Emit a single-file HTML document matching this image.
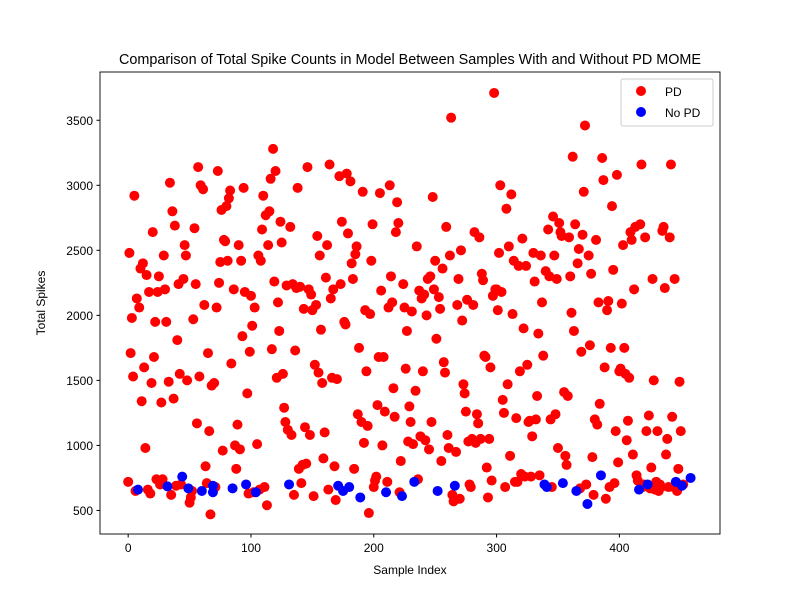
<!DOCTYPE html>
<html><head><meta charset="utf-8"><style>
body{margin:0;background:#fff}
svg text{font-family:"Liberation Sans","DejaVu Sans",sans-serif;fill:#000}
</style></head><body>
<svg id="chart" width="800" height="600" viewBox="0 0 800 600" xmlns="http://www.w3.org/2000/svg">
<rect width="800" height="600" fill="#fff"/>
<text x="410" y="64" font-size="14.4" text-anchor="middle">Comparison of Total Spike Counts in Model Between Samples With and Without PD MOME</text>
<g id="marks"></g>
<rect x="100" y="72" width="620" height="462" fill="none" stroke="#000" stroke-width="0.9"/>
<g id="axes"></g>
<text x="410" y="574" font-size="12" text-anchor="middle">Sample Index</text>
<text transform="translate(45,303) rotate(-90)" font-size="12" text-anchor="middle">Total Spikes</text>
<g>
<rect x="621" y="79" width="92" height="47" rx="2" fill="#fff" fill-opacity="0.8" stroke="#ccc"/>
<circle cx="641" cy="91" r="5" fill="#ff0000"/>
<text x="665" y="96" font-size="12">PD</text>
<circle cx="641" cy="112" r="5" fill="#0000ff"/>
<text x="665" y="117" font-size="12">No PD</text>
</g>
</svg>
<script>
const noPdIdx=[8,32,44,49,60,69,69,85,96,104,131,171,175,180,189,210,223,233,252,266,339,341,354,365,374,385,416,423,446,451,458];
const noPdVals=[660,685,760,670,650,640,690,670,700,640,700,690,650,680,600,640,610,720,650,690,700,680,710,650,550,770,660,700,720,690,750];
const pdVals=[
720,2480,1710,1980,1530,2920,650,2130,2060,2360,1340,2400,1600,980,2310,660,2180,630,1480,2640,
1680,1950,740,2180,2300,700,1330,740,2460,2200,1950,1490,3020,620,2800,1360,2690,690,1810,2240,
1550,700,2280,2540,2460,1500,560,600,650,1970,2670,2240,1170,3140,1530,3000,2970,2080,840,710,
1710,1110,470,1460,1480,680,2060,3110,2250,2410,2810,960,2580,2570,2840,2420,2900,2960,1630,2200,
1000,820,1160,2540,970,2420,1840,2980,2180,1400,630,1720,2150,1920,640,2060,1010,2460,660,2420,
2660,2920,680,2770,540,2540,2800,3050,1740,3280,2260,3110,1520,2100,1880,2720,2560,1550,1290,1180,
2230,1120,2680,1080,2240,620,1730,2210,2980,820,2220,710,850,2050,1140,860,3140,2200,1080,2160,
2040,610,1620,2080,2610,1560,2460,1890,1480,900,1100,2290,2540,660,3160,2130,1520,2200,840,580,
1510,3070,2240,2720,1950,1930,3090,2630,3030,2400,2280,820,2470,2530,1240,1750,1180,2950,1020,2040,
1570,1150,480,2010,2420,2700,680,730,760,1310,1680,2940,2190,1000,1680,1260,720,2060,3000,2300,
2100,1440,1220,2640,2870,2710,640,880,2240,2060,1590,1880,1030,1300,1180,2030,1010,1420,2530,740,
2190,1070,2130,1570,2160,1040,2000,2280,970,2300,1180,2910,2200,2420,1820,2140,2050,880,2360,1640,
1560,2680,1080,980,2460,3520,620,570,950,2080,2280,590,2500,1960,1470,1400,1260,2120,1030,700,
680,1050,2080,2640,1020,1240,1170,2600,1050,2320,2270,1690,1680,830,600,1050,1600,730,2150,3710,
2200,2200,2040,2480,3000,2180,1350,1250,680,2820,1470,2530,920,2930,2010,2420,720,1210,720,2380,
1570,780,2590,1900,760,2380,1620,1180,1190,760,1070,2480,2260,1200,1380,1860,770,2460,2100,1690,
2340,2660,2300,1200,680,2760,2460,1240,2280,980,2710,2640,2610,1410,920,850,1380,2600,2300,2020,
3220,1880,2700,2400,2510,670,1720,2620,2950,3460,700,2460,1770,2320,910,620,1200,2580,1160,2100,
1320,3210,3040,1600,590,2040,2110,680,1750,2840,2350,710,1110,3080,870,1570,1590,2090,2540,1750,
1550,1040,1190,1520,2640,2580,930,2200,2680,770,730,2700,3160,680,700,2600,1110,1230,670,830,
2280,1500,660,720,1110,650,700,680,2650,2680,2210,930,1050,680,2600,3160,1220,680,2280,650,820,1490,1110,700];
const xMin=-22.95,xMax=481.95,yMin=319,yMax=3871;
const X=v=>100+(v-xMin)/(xMax-xMin)*620;
const Y=v=>534-(v-yMin)/(yMax-yMin)*462;
const NS='http://www.w3.org/2000/svg';
const marks=document.getElementById('marks');
const noSet=new Set(noPdIdx);
let pdIdx=[];for(let i=0;pdIdx.length<pdVals.length;i++){if(!noSet.has(i))pdIdx.push(i);}
function dot(x,y,c,name){const e=document.createElementNS(NS,'circle');e.setAttribute('cx',X(x));e.setAttribute('cy',Y(y));e.setAttribute('r',5);e.setAttribute('fill',c);


marks.appendChild(e);}
pdVals.forEach((v,i)=>dot(pdIdx[i],v,'#ff0000','pd-point'));
noPdVals.forEach((v,i)=>dot(noPdIdx[i],v,'#0000ff','no-pd-point'));
const axes=document.getElementById('axes');
const xTicks=[0,100,200,300,400];
const yTicks=[500,1000,1500,2000,2500,3000,3500];
xTicks.forEach(t=>{const x=X(t);
const l=document.createElementNS(NS,'line');l.setAttribute('x1',x);l.setAttribute('x2',x);l.setAttribute('y1',534);l.setAttribute('y2',537.5);l.setAttribute('stroke','#000');


axes.appendChild(l);
const s=document.createElementNS(NS,'text');s.setAttribute('x',x);s.setAttribute('y',552);s.setAttribute('font-size','12');s.setAttribute('text-anchor','middle');s.textContent=t;


axes.appendChild(s);});
yTicks.forEach(t=>{const y=Y(t);
const l=document.createElementNS(NS,'line');l.setAttribute('x1',96.5);l.setAttribute('x2',100);l.setAttribute('y1',y);l.setAttribute('y2',y);l.setAttribute('stroke','#000');


axes.appendChild(l);
const s=document.createElementNS(NS,'text');s.setAttribute('x',93);s.setAttribute('y',y+4.5);s.setAttribute('font-size','12');s.setAttribute('text-anchor','end');s.textContent=t;


axes.appendChild(s);});
</script>
</body></html>
